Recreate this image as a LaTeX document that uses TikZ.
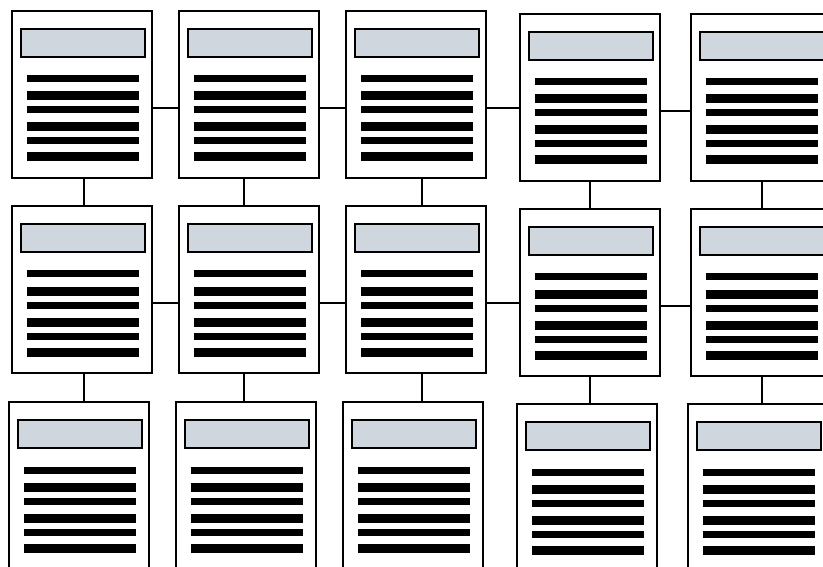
\documentclass[tikz,border=0pt]{standalone}
\usepackage{xcolor}
\definecolor{docgray}{RGB}{207,214,222}
\usetikzlibrary{calc}

\tikzset{
  card/.style={draw=black, fill=white, line width=2pt, anchor=north west,
    minimum width=140pt, minimum height=167pt, inner sep=0pt},
  headbar/.style={draw=black, fill=docgray, line width=2pt},
  textbar/.style={black, line cap=butt},
  link/.style={draw=black, line width=2pt}
}

\begin{document}
\begin{tikzpicture}[x=1pt, y=-1pt]
  \clip (0,0) rectangle (823,567);
  \fill[white] (0,0) rectangle (823,567);

  % Cards
  \foreach \n/\x/\y in {r1c1/11/10, r1c2/178/10, r1c3/345/10, r1c4/519/13, r1c5/690/13,
                        r2c1/11/205, r2c2/178/205, r2c3/345/205, r2c4/519/208, r2c5/690/208,
                        r3c1/8/401, r3c2/175/401, r3c3/342/401, r3c4/516/403, r3c5/687/403} {
    \node[card] (\n) at (\x,\y) {};
    \draw[headbar] ([xshift=10pt,yshift=-19pt]\n.north west) rectangle ([xshift=-8pt,yshift=-47pt]\n.north east);
    \foreach \dy/\w in {69/7,86/9,100/7,117/9,131/7,147/9}
      \draw[textbar, line width=\w pt] ([xshift=16pt,yshift=-\dy pt]\n.north west) -- ([xshift=-14pt,yshift=-\dy pt]\n.north east);
  }

  % Horizontal links
  \foreach \r in {1,2} {
    \foreach \a/\b in {1/2,2/3,3/4,4/5}
      \draw[link] ($(r\r c\a.north east)!0.58!(r\r c\a.south east)$) coordinate (h\r\a)
        -- (h\r\a -| r\r c\b.west);
  }

  % Vertical links
  \foreach \c/\s in {1/2,2/-5,3/6,4/0,5/1} {
    \draw[link] ([xshift=\s pt]r1c\c.south) coordinate (v1\c) -- (v1\c |- r2c\c.north);
    \draw[link] ([xshift=\s pt]r2c\c.south) coordinate (v2\c) -- (v2\c |- r3c\c.north);
  }
\end{tikzpicture}
\end{document}
